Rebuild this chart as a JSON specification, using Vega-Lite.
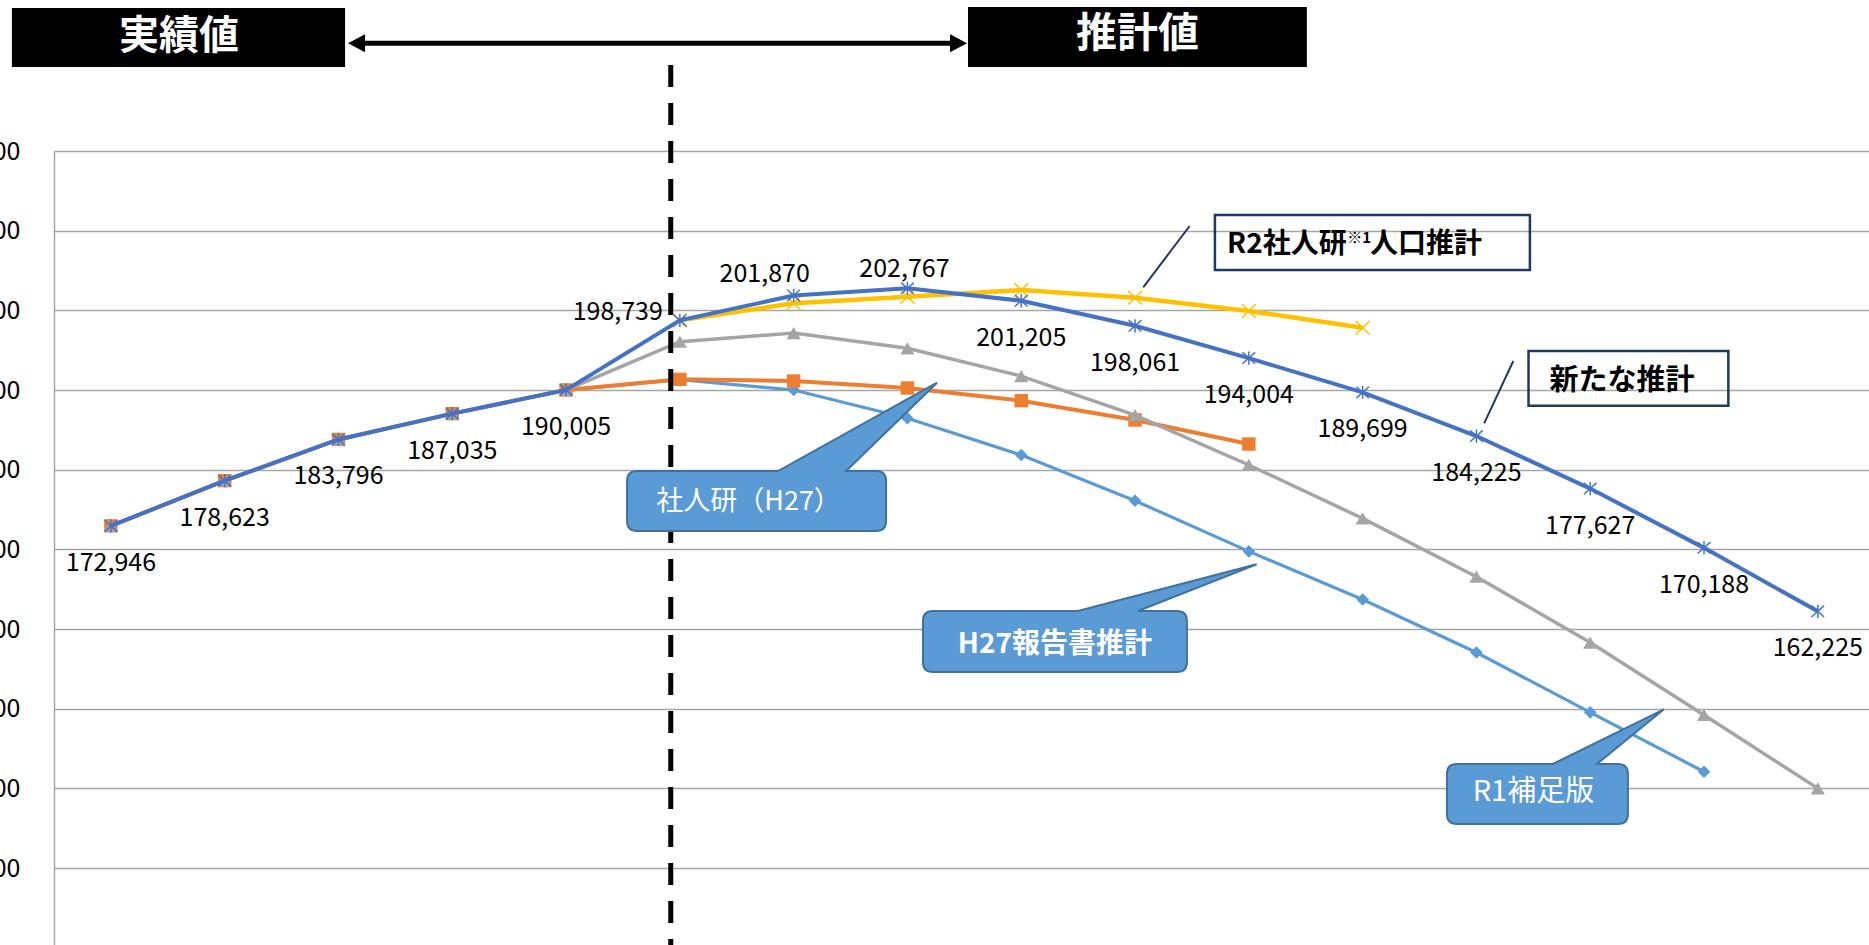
{
  "$schema": "https://vega.github.io/schema/vega-lite/v6.json",
  "width": 1815,
  "height": 794,
  "autosize": {"type": "none"},
  "padding": {"left": 54, "top": 151, "right": 0, "bottom": 0},
  "background": "white",
  "config": {"view": {"stroke": null}, "font": "Noto Sans CJK JP"},
  "datasets": {
    "pop": [
      {"s": "H27報告書推計", "year": 1995, "value": 172946},
      {"s": "H27報告書推計", "year": 2000, "value": 178623},
      {"s": "H27報告書推計", "year": 2005, "value": 183796},
      {"s": "H27報告書推計", "year": 2010, "value": 187035},
      {"s": "H27報告書推計", "year": 2015, "value": 190005},
      {"s": "H27報告書推計", "year": 2020, "value": 191300},
      {"s": "H27報告書推計", "year": 2025, "value": 190000},
      {"s": "H27報告書推計", "year": 2030, "value": 186450},
      {"s": "H27報告書推計", "year": 2035, "value": 181840},
      {"s": "H27報告書推計", "year": 2040, "value": 176100},
      {"s": "H27報告書推計", "year": 2045, "value": 169750},
      {"s": "H27報告書推計", "year": 2050, "value": 163700},
      {"s": "H27報告書推計", "year": 2055, "value": 157050},
      {"s": "H27報告書推計", "year": 2060, "value": 149540},
      {"s": "H27報告書推計", "year": 2065, "value": 142090},
      {"s": "社人研（H27）", "year": 1995, "value": 172946},
      {"s": "社人研（H27）", "year": 2000, "value": 178623},
      {"s": "社人研（H27）", "year": 2005, "value": 183796},
      {"s": "社人研（H27）", "year": 2010, "value": 187035},
      {"s": "社人研（H27）", "year": 2015, "value": 190005},
      {"s": "社人研（H27）", "year": 2020, "value": 191340},
      {"s": "社人研（H27）", "year": 2025, "value": 191130},
      {"s": "社人研（H27）", "year": 2030, "value": 190250},
      {"s": "社人研（H27）", "year": 2035, "value": 188660},
      {"s": "社人研（H27）", "year": 2040, "value": 186240},
      {"s": "社人研（H27）", "year": 2045, "value": 183220},
      {"s": "R1補足版", "year": 1995, "value": 172946},
      {"s": "R1補足版", "year": 2000, "value": 178623},
      {"s": "R1補足版", "year": 2005, "value": 183796},
      {"s": "R1補足版", "year": 2010, "value": 187035},
      {"s": "R1補足版", "year": 2015, "value": 190005},
      {"s": "R1補足版", "year": 2020, "value": 196060},
      {"s": "R1補足版", "year": 2025, "value": 197150},
      {"s": "R1補足版", "year": 2030, "value": 195230},
      {"s": "R1補足版", "year": 2035, "value": 191750},
      {"s": "R1補足版", "year": 2040, "value": 186860},
      {"s": "R1補足版", "year": 2045, "value": 180590},
      {"s": "R1補足版", "year": 2050, "value": 173890},
      {"s": "R1補足版", "year": 2055, "value": 166570},
      {"s": "R1補足版", "year": 2060, "value": 158300},
      {"s": "R1補足版", "year": 2065, "value": 149210},
      {"s": "R1補足版", "year": 2070, "value": 140000},
      {"s": "R2社人研人口推計", "year": 2020, "value": 198739},
      {"s": "R2社人研人口推計", "year": 2025, "value": 200900},
      {"s": "R2社人研人口推計", "year": 2030, "value": 201710},
      {"s": "R2社人研人口推計", "year": 2035, "value": 202560},
      {"s": "R2社人研人口推計", "year": 2040, "value": 201590},
      {"s": "R2社人研人口推計", "year": 2045, "value": 199920},
      {"s": "R2社人研人口推計", "year": 2050, "value": 197820},
      {"s": "新たな推計", "year": 1995, "value": 172946},
      {"s": "新たな推計", "year": 2000, "value": 178623},
      {"s": "新たな推計", "year": 2005, "value": 183796},
      {"s": "新たな推計", "year": 2010, "value": 187035},
      {"s": "新たな推計", "year": 2015, "value": 190005},
      {"s": "新たな推計", "year": 2020, "value": 198739},
      {"s": "新たな推計", "year": 2025, "value": 201870},
      {"s": "新たな推計", "year": 2030, "value": 202767},
      {"s": "新たな推計", "year": 2035, "value": 201205},
      {"s": "新たな推計", "year": 2040, "value": 198061},
      {"s": "新たな推計", "year": 2045, "value": 194004},
      {"s": "新たな推計", "year": 2050, "value": 189699},
      {"s": "新たな推計", "year": 2055, "value": 184225},
      {"s": "新たな推計", "year": 2060, "value": 177627},
      {"s": "新たな推計", "year": 2065, "value": 170188},
      {"s": "新たな推計", "year": 2070, "value": 162225}
    ]
  },
  "layer": [
    {
      "data": {"name": "pop"},
      "encoding": {
        "x": {"field": "year", "type": "quantitative", "scale": {"domain": [1992.5, 2072.25], "nice": false, "zero": false}, "axis": null},
        "y": {
          "field": "value", "type": "quantitative",
          "scale": {"domain": [120340, 220000], "nice": false, "zero": false},
          "axis": {
            "values": [130000, 140000, 150000, 160000, 170000, 180000, 190000, 200000, 210000, 220000],
            "format": ",", "labelExpr": "format(datum.value, ',')", "title": null, "grid": true, "gridColor": "#A6A6A6", "gridWidth": 1.5,
            "domain": true, "domainColor": "#A6A6A6", "domainWidth": 1.5,
            "ticks": false, "tickSize": 0, "labelPadding": 34, "labelFontSize": 25,
            "labelFont": "Noto Sans CJK JP", "labelColor": "#000000", "labelBaseline": "middle"
          }
        }
      },
      "layer": [
        {"transform": [{"filter": "datum.s === 'H27報告書推計'"}], "layer": [
          {"mark": {"type": "line", "color": "#5B9BD5", "strokeWidth": 3.2}},
          {"mark": {"type": "point", "shape": "diamond", "filled": true, "color": "#5B9BD5", "size": 160, "opacity": 1}}
        ]},
        {"transform": [{"filter": "datum.s === '社人研（H27）'"}], "layer": [
          {"mark": {"type": "line", "color": "#ED7D31", "strokeWidth": 4}},
          {"mark": {"type": "point", "shape": "square", "filled": true, "color": "#ED7D31", "size": 180, "opacity": 1}}
        ]},
        {"transform": [{"filter": "datum.s === 'R1補足版'"}], "layer": [
          {"mark": {"type": "line", "color": "#A5A5A5", "strokeWidth": 3.5}},
          {"mark": {"type": "point", "shape": "triangle-up", "filled": true, "color": "#A5A5A5", "size": 200, "opacity": 1}}
        ]},
        {"transform": [{"filter": "datum.s === 'R2社人研人口推計'"}], "layer": [
          {"mark": {"type": "line", "color": "#FFC000", "strokeWidth": 4.5}},
          {"mark": {"type": "point", "shape": "M-1,-1L1,1M-1,1L1,-1", "filled": false, "color": "#FFC000", "stroke": "#FFC000", "strokeWidth": 1.5, "size": 196, "opacity": 1}}
        ]},
        {"transform": [{"filter": "datum.s === '新たな推計'"}], "layer": [
          {"mark": {"type": "line", "color": "#4472C4", "strokeWidth": 4}},
          {"mark": {"type": "point", "shape": "M-1,-0.9L1,0.9M-1,0.9L1,-0.9M0,-1.05L0,1.05", "filled": false, "color": "#4472C4", "stroke": "#4472C4", "strokeWidth": 1.5, "size": 160, "opacity": 1}}
        ]},
        {"transform": [{"filter": "datum.s === '新たな推計' && datum.year != 2020 && datum.year != 2025 && datum.year != 2030"}],
         "mark": {"type": "text", "dy": 37, "fontSize": 25, "font": "Noto Sans CJK JP", "color": "#000000"},
         "encoding": {"text": {"field": "value", "type": "quantitative", "format": ","}}},
        {"transform": [{"filter": "datum.s === '新たな推計' && datum.year == 2020"}],
         "mark": {"type": "text", "align": "right", "dx": -17, "dy": -8, "fontSize": 25, "font": "Noto Sans CJK JP", "color": "#000000"},
         "encoding": {"text": {"field": "value", "type": "quantitative", "format": ","}}},
        {"transform": [{"filter": "datum.s === '新たな推計' && datum.year == 2025"}],
         "mark": {"type": "text", "dx": -29, "dy": -21, "fontSize": 25, "font": "Noto Sans CJK JP", "color": "#000000"},
         "encoding": {"text": {"field": "value", "type": "quantitative", "format": ","}}},
        {"transform": [{"filter": "datum.s === '新たな推計' && datum.year == 2030"}],
         "mark": {"type": "text", "dx": -3, "dy": -19, "fontSize": 25, "font": "Noto Sans CJK JP", "color": "#000000"},
         "encoding": {"text": {"field": "value", "type": "quantitative", "format": ","}}}
      ]
    },
    {
      "data": {"values": [{}]},
      "layer": [
        {"mark": {"type": "rule", "color": "#000000", "strokeWidth": 5, "strokeDash": [22, 16]},
         "encoding": {"x": {"datum": 2019.6, "type": "quantitative", "axis": null}, "y": {"datum": 230795, "type": "quantitative"}, "y2": {"datum": 120340}}},
        {"mark": {"type": "rect", "color": "#000000"},
         "encoding": {"x": {"datum": 1990.65, "type": "quantitative", "axis": null}, "x2": {"datum": 2005.29}, "y": {"datum": 237949, "type": "quantitative"}, "y2": {"datum": 230544}}},
        {"mark": {"type": "rect", "color": "#000000"},
         "encoding": {"x": {"datum": 2032.66, "type": "quantitative", "axis": null}, "x2": {"datum": 2047.55}, "y": {"datum": 238075, "type": "quantitative"}, "y2": {"datum": 230544}}},
        {"mark": {"type": "text", "text": "実績値", "color": "#FFFFFF", "fontSize": 40, "fontWeight": "bold", "font": "Noto Sans CJK JP"},
         "encoding": {"x": {"datum": 1997.99, "type": "quantitative", "axis": null}, "y": {"datum": 234347, "type": "quantitative"}}},
        {"mark": {"type": "text", "text": "推計値", "color": "#FFFFFF", "fontSize": 41, "fontWeight": "bold", "font": "Noto Sans CJK JP"},
         "encoding": {"x": {"datum": 2040.11, "type": "quantitative", "axis": null}, "y": {"datum": 234560, "type": "quantitative"}}},
        {"mark": {"type": "rule", "color": "#000000", "strokeWidth": 5},
         "encoding": {"x": {"datum": 2006.0, "type": "quantitative", "axis": null}, "x2": {"datum": 2032.0}, "y": {"datum": 233518, "type": "quantitative"}}},
        {"mark": {"type": "point", "shape": "M0,0L17,-9L17,9Z", "size": 4, "filled": true, "color": "#000000", "opacity": 1},
         "encoding": {"x": {"datum": 2005.42, "type": "quantitative", "axis": null}, "y": {"datum": 233518, "type": "quantitative"}}},
        {"mark": {"type": "point", "shape": "M0,0L-17,-9L-17,9Z", "size": 4, "filled": true, "color": "#000000", "opacity": 1},
         "encoding": {"x": {"datum": 2032.62, "type": "quantitative", "axis": null}, "y": {"datum": 233518, "type": "quantitative"}}},
        {"mark": {"type": "rect", "filled": false, "stroke": "#1F3864", "strokeWidth": 2.5},
         "encoding": {"x": {"datum": 2043.51, "type": "quantitative", "axis": null}, "x2": {"datum": 2057.35}, "y": {"datum": 211967, "type": "quantitative"}, "y2": {"datum": 205063}}},
        {"mark": {"type": "rule", "color": "#1F3864", "strokeWidth": 2},
         "encoding": {"x": {"datum": 2042.40, "type": "quantitative", "axis": null}, "x2": {"datum": 2040.36}, "y": {"datum": 210586, "type": "quantitative"}, "y2": {"datum": 202892}}},
        {"mark": {"type": "text", "text": "R2社人研", "align": "right", "color": "#000000", "fontSize": 28, "fontWeight": "bold", "font": "Noto Sans CJK JP"},
         "encoding": {"x": {"datum": 2049.30, "type": "quantitative", "axis": null}, "y": {"datum": 208201, "type": "quantitative"}}},
        {"mark": {"type": "text", "text": "※1", "align": "left", "color": "#000000", "fontSize": 15, "fontWeight": "bold", "font": "Noto Sans CJK JP"},
         "encoding": {"x": {"datum": 2049.32, "type": "quantitative", "axis": null}, "y": {"datum": 209080, "type": "quantitative"}}},
        {"mark": {"type": "text", "text": "人口推計", "align": "left", "color": "#000000", "fontSize": 28, "fontWeight": "bold", "font": "Noto Sans CJK JP"},
         "encoding": {"x": {"datum": 2050.32, "type": "quantitative", "axis": null}, "y": {"datum": 208201, "type": "quantitative"}}},
        {"mark": {"type": "rect", "filled": false, "stroke": "#1F3864", "strokeWidth": 2.5},
         "encoding": {"x": {"datum": 2057.29, "type": "quantitative", "axis": null}, "x2": {"datum": 2066.07}, "y": {"datum": 194896, "type": "quantitative"}, "y2": {"datum": 188030}}},
        {"mark": {"type": "rule", "color": "#1F3864", "strokeWidth": 2},
         "encoding": {"x": {"datum": 2056.62, "type": "quantitative", "axis": null}, "x2": {"datum": 2055.34}, "y": {"datum": 193641, "type": "quantitative"}, "y2": {"datum": 185821}}},
        {"mark": {"type": "text", "text": "新たな推計", "color": "#000000", "fontSize": 29, "fontWeight": "bold", "font": "Noto Sans CJK JP"},
         "encoding": {"x": {"datum": 2061.40, "type": "quantitative", "axis": null}, "y": {"datum": 191130, "type": "quantitative"}}},
        {"mark": {"type": "point", "shape": "M-119.5,-30L21.5,-30L180.5,-118.3L89.5,-30L119.5,-30Q129.5,-30 129.5,-20L129.5,20Q129.5,30 119.5,30L-119.5,30Q-129.5,30 -129.5,20L-129.5,-20Q-129.5,-30 -119.5,-30Z", "size": 4, "filled": true, "fill": "#5B9BD5", "stroke": "#41719C", "strokeWidth": 2, "opacity": 1},
         "encoding": {"x": {"datum": 2023.37, "type": "quantitative", "axis": null}, "y": {"datum": 176068, "type": "quantitative"}}},
        {"mark": {"type": "text", "text": "社人研（H27）", "dx": -8, "dy": 1, "color": "#FFFFFF", "fontSize": 27, "font": "Noto Sans CJK JP"},
         "encoding": {"x": {"datum": 2023.37, "type": "quantitative", "axis": null}, "y": {"datum": 176068, "type": "quantitative"}}},
        {"mark": {"type": "point", "shape": "M-122,-30.5L23,-30.5L201.7,-77.2L83,-30.5L122,-30.5Q132,-30.5 132,-20.5L132,20.5Q132,30.5 122,30.5L-122,30.5Q-132,30.5 -132,20.5L-132,-20.5Q-132,-30.5 -122,-30.5Z", "size": 4, "filled": true, "fill": "#5B9BD5", "stroke": "#41719C", "strokeWidth": 2, "opacity": 1},
         "encoding": {"x": {"datum": 2036.48, "type": "quantitative", "axis": null}, "y": {"datum": 158432, "type": "quantitative"}}},
        {"mark": {"type": "text", "text": "H27報告書推計", "dy": 3, "color": "#FFFFFF", "fontSize": 28, "fontWeight": "bold", "font": "Noto Sans CJK JP"},
         "encoding": {"x": {"datum": 2036.48, "type": "quantitative", "axis": null}, "y": {"datum": 158432, "type": "quantitative"}}},
        {"mark": {"type": "point", "shape": "M-80.5,-30L15.5,-30L126.5,-84.7L59.5,-30L80.5,-30Q90.5,-30 90.5,-20L90.5,20Q90.5,30 80.5,30L-80.5,30Q-90.5,30 -90.5,20L-90.5,-20Q-90.5,-30 -80.5,-30Z", "size": 4, "filled": true, "fill": "#5B9BD5", "stroke": "#41719C", "strokeWidth": 2, "opacity": 1},
         "encoding": {"x": {"datum": 2057.68, "type": "quantitative", "axis": null}, "y": {"datum": 139291, "type": "quantitative"}}},
        {"mark": {"type": "text", "text": "R1補足版", "dx": -4, "dy": -2, "color": "#FFFFFF", "fontSize": 29, "font": "Noto Sans CJK JP"},
         "encoding": {"x": {"datum": 2057.68, "type": "quantitative", "axis": null}, "y": {"datum": 139291, "type": "quantitative"}}}
      ]
    }
  ]
}
